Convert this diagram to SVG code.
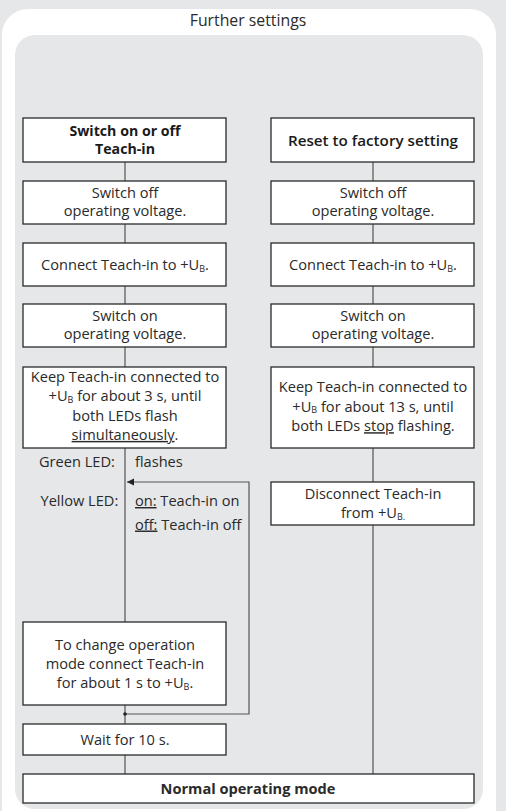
<svg xmlns="http://www.w3.org/2000/svg" width="506" height="811" viewBox="0 0 506 811">
<style>
text{font-family:"Open Sans","Noto Sans","Liberation Sans",sans-serif;font-size:14.6px;fill:#2a2a2a;text-anchor:middle}
.b{font-weight:bold}
.h{font-weight:600;font-size:15.2px;fill:#1a1a1a}
.h2{font-weight:bold;font-size:14.2px;fill:#1a1a1a}
.l{text-anchor:start}
.box{fill:#fff;stroke:#2a2a2a;stroke-width:1.3}
.c{fill:none;stroke:#555;stroke-width:1.2}
.sub{font-size:9px}
</style>
<defs>
<marker id="ah" markerWidth="8" markerHeight="8" refX="7" refY="4" orient="auto" markerUnits="userSpaceOnUse">
<path d="M0,0.5 L7,4 L0,7.5 Z" fill="#222"/>
</marker>
</defs>
<rect width="506" height="811" fill="#e6e7e8"/>
<rect x="2" y="9" width="494" height="830" rx="26" fill="#fff"/>
<rect x="15" y="35" width="468" height="774" rx="20" fill="#e6e7e8"/>
<text x="248" y="26" style="font-size:15.8px">Further settings</text>

<g id="connectors">
<line class="c" x1="125" y1="162" x2="125" y2="181"/>
<line class="c" x1="125" y1="224" x2="125" y2="243"/>
<line class="c" x1="125" y1="286" x2="125" y2="304"/>
<line class="c" x1="125" y1="347" x2="125" y2="367"/>
<line class="c" x1="125" y1="448" x2="125" y2="622"/>
<line class="c" x1="125" y1="705" x2="125" y2="724"/>
<line class="c" x1="125" y1="755" x2="125" y2="774"/>
<polyline class="c" points="125,714 249,714 249,482 127,482" marker-end="url(#ah)"/>
<circle cx="125" cy="714" r="1.8" fill="#222"/>
<line class="c" x1="373" y1="162" x2="373" y2="181"/>
<line class="c" x1="373" y1="224" x2="373" y2="243"/>
<line class="c" x1="373" y1="286" x2="373" y2="304"/>
<line class="c" x1="373" y1="347" x2="373" y2="367"/>
<line class="c" x1="373" y1="448" x2="373" y2="482"/>
<line class="c" x1="373" y1="525" x2="373" y2="774"/>
</g>

<g id="n-left-head"><rect class="box" x="23" y="118" width="203" height="44"/>
<text class="h2" x="125" y="135.5">Switch on or off<tspan x="125" dy="18.8">Teach-in</tspan></text></g>
<g id="n-left-off"><rect class="box" x="23" y="181" width="203" height="43"/>
<text x="125" y="198">Switch off<tspan x="125" dy="18.3">operating voltage.</tspan></text></g>
<g id="n-left-connect"><rect class="box" x="23" y="243" width="203" height="43"/>
<text x="125" y="269.5">Connect Teach-in to +U<tspan class="sub" dy="2">B</tspan><tspan dy="-2">.</tspan></text></g>
<g id="n-left-on"><rect class="box" x="23" y="304" width="203" height="43"/>
<text x="125" y="321">Switch on<tspan x="125" dy="18.3">operating voltage.</tspan></text></g>
<g id="n-left-keep"><rect class="box" x="23" y="367" width="203" height="81"/>
<text x="125" y="382">Keep Teach-in connected to<tspan x="125" dy="19.3">+U</tspan><tspan class="sub" dy="1.5">B</tspan><tspan dy="-1.5"> for about 3 s, until</tspan><tspan x="125" dy="19.3">both LEDs flash</tspan><tspan x="125" dy="19.3" text-decoration="underline">simultaneously</tspan><tspan>.</tspan></text></g>

<g id="leds">
<text class="l" x="39" y="467">Green LED:</text>
<text class="l" x="135" y="467">flashes</text>
<text class="l" x="40.5" y="506">Yellow LED:</text>
<text class="l" x="135" y="506"><tspan text-decoration="underline">on:</tspan> Teach-in on<tspan x="135" dy="23.5" text-decoration="underline">off:</tspan><tspan> Teach-in off</tspan></text>
</g>

<g id="n-left-change"><rect class="box" x="23" y="622" width="203" height="83"/>
<text x="125" y="650">To change operation<tspan x="125" dy="18.8">mode connect Teach-in</tspan><tspan x="125" dy="18.8">for about 1 s to +U</tspan><tspan class="sub" dy="2">B</tspan><tspan dy="-2">.</tspan></text></g>
<g id="n-left-wait"><rect class="box" x="23" y="724" width="203" height="31"/>
<text x="125" y="744.5">Wait for 10 s.</text></g>

<g id="n-right-head"><rect class="box" x="271" y="118" width="203" height="44"/>
<text class="h" x="373" y="145.5">Reset to factory setting</text></g>
<g id="n-right-off"><rect class="box" x="271" y="181" width="203" height="43"/>
<text x="373" y="198">Switch off<tspan x="373" dy="18.3">operating voltage.</tspan></text></g>
<g id="n-right-connect"><rect class="box" x="271" y="243" width="203" height="43"/>
<text x="373" y="269.5">Connect Teach-in to +U<tspan class="sub" dy="2">B</tspan><tspan dy="-2">.</tspan></text></g>
<g id="n-right-on"><rect class="box" x="271" y="304" width="203" height="43"/>
<text x="373" y="321">Switch on<tspan x="373" dy="18.3">operating voltage.</tspan></text></g>
<g id="n-right-keep"><rect class="box" x="271" y="367" width="203" height="81"/>
<text x="373" y="392.3">Keep Teach-in connected to<tspan x="373" dy="19.3">+U</tspan><tspan class="sub" dy="1.2">B</tspan><tspan dy="-1.2"> for about 13 s, until</tspan><tspan x="373" dy="19.6">both LEDs </tspan><tspan text-decoration="underline">stop</tspan><tspan> flashing.</tspan></text></g>
<g id="n-right-disconnect"><rect class="box" x="271" y="482" width="203" height="43"/>
<text x="373" y="499">Disconnect Teach-in<tspan x="373" dy="18.5">from +U</tspan><tspan class="sub" dy="2">B.</tspan></text></g>

<g id="n-normal"><rect class="box" x="23" y="774" width="451" height="29"/>
<text class="b" x="248" y="793.5">Normal operating mode</text></g>
</svg>
